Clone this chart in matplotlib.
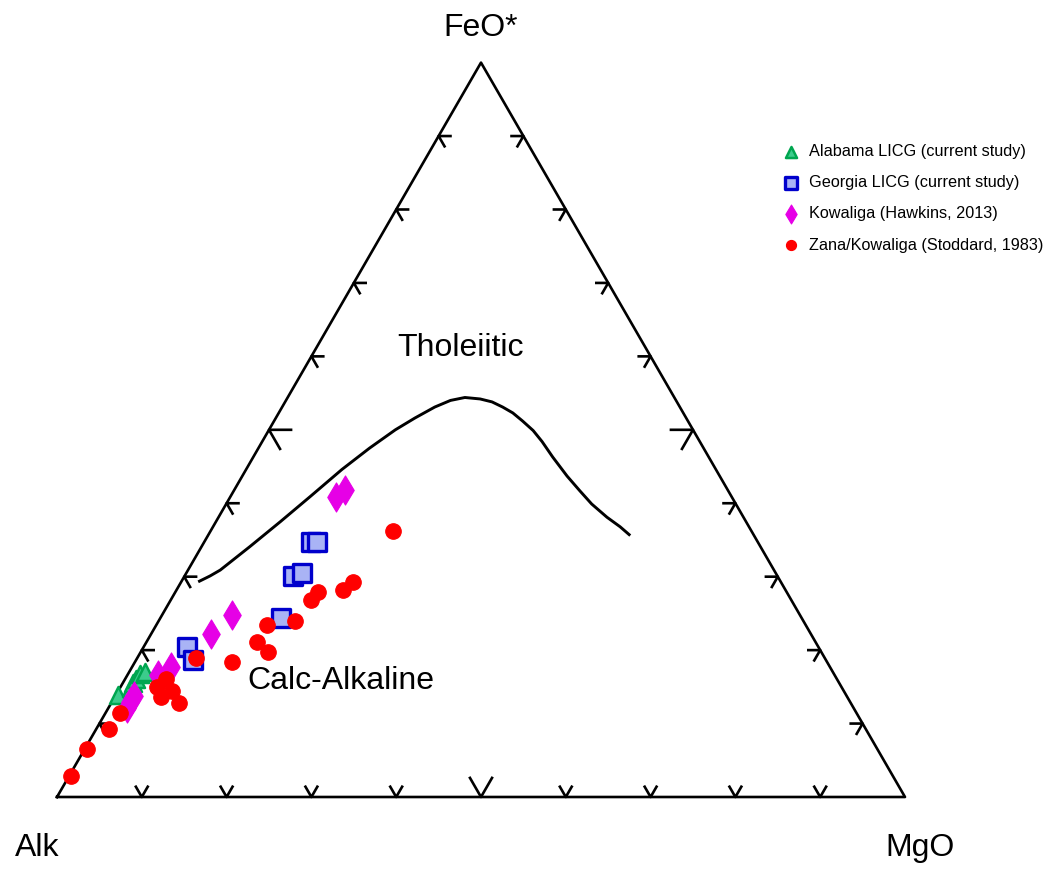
import numpy as np
import matplotlib
matplotlib.use('Agg')
import matplotlib.pyplot as plt

plt.rcParams['font.family'] = ['Liberation Sans', 'DejaVu Sans']

# composicoes em % : A = alcalis, F = FeO*, M = MgO
alabama_A = [85.9, 83.9, 83.3, 82.6, 81.8, 81.1]
alabama_F = [13.9, 14.8, 15.5, 16.1, 16.8, 17.0]
alabama_M = [0.2, 1.3, 1.2, 1.3, 1.4, 1.9]

georgia_A = [74.5, 74.6, 61.4, 57.1, 55.9, 52.7, 52.0]
georgia_F = [20.4, 18.7, 24.4, 30.1, 30.5, 34.7, 34.7]
georgia_M = [5.1, 6.7, 14.2, 12.8, 13.6, 12.6, 13.3]

hawkins_A = [85.7, 84.9, 84.0, 79.8, 77.7, 70.7, 67.0, 46.6, 45.1]
hawkins_F = [12.1, 12.9, 13.8, 16.6, 17.7, 22.2, 24.8, 40.9, 41.8]
hawkins_M = [2.2, 2.2, 2.2, 3.6, 4.6, 7.1, 8.2, 12.5, 13.1]

stoddard_A = [96.9, 93.2, 89.2, 86.9, 80.7, 79.1, 80.9, 79.2, 79.2, 74.1,
              70.2, 65.9, 65.3, 63.5, 59.9, 56.6, 55.3, 52.2, 50.5, 42.3]
stoddard_F = [2.9, 6.5, 9.3, 11.4, 15.0, 16.1, 13.6, 14.4, 12.8, 18.9,
              18.4, 21.1, 19.7, 23.4, 24.0, 26.8, 27.9, 28.2, 29.3, 36.2]
stoddard_M = [0.2, 0.3, 1.5, 1.7, 4.3, 4.8, 5.5, 6.4, 8.0, 7.0,
              11.4, 13.0, 15.0, 13.1, 16.1, 16.6, 16.8, 19.6, 20.2, 21.5]

# limite toleitico / calcio-alcalino (F, M em %; A = resto)
lim_F = [29.3, 30.1, 30.9, 34.1, 37.5, 40.9, 44.6, 47.5, 50.0, 51.6, 53.1,
         54.0, 54.4, 54.2, 53.8, 53.1, 52.3, 51.2, 49.9, 48.4, 46.3, 43.7,
         41.7, 39.9, 38.1, 36.8, 35.6]
lim_M = [2.0, 3.0, 3.8, 5.7, 7.6, 9.4, 11.3, 13.1, 14.9, 16.4, 18.0,
         19.4, 20.9, 22.8, 24.4, 26.0, 27.6, 29.3, 31.2, 33.0, 35.3, 38.3,
         40.8, 43.1, 45.8, 48.0, 49.8]
lim_A = [100 - f - m for f, m in zip(lim_F, lim_M)]


def tern(A, F, M):
    A, F, M = np.asarray(A, float), np.asarray(F, float), np.asarray(M, float)
    s = A + F + M
    f = F / s
    m = M / s
    return m + f / 2, f * np.sqrt(3) / 2


fig = plt.figure(figsize=(10.56, 8.69), dpi=100)
ax = fig.add_axes([0, 0, 1, 1])
ax.set_xlim(-57 / 848, 999 / 848)
ax.set_ylim(-72 / 848, 797 / 848)
ax.axis('off')

h = np.sqrt(3) / 2
ax.plot([0, 1, 0.5, 0], [0, 0, h, 0], c='black', lw=1.9, zorder=2)

# marcas nas arestas
c60, s60 = 0.5, h
for i in range(1, 10):
    t = i / 10
    L = 0.026 if i == 5 else 0.014
    # base
    ax.plot([t - L * c60, t, t + L * c60], [L * s60, 0, L * s60], c='black', lw=1.9)
    # lado esquerdo
    x, y = t / 2, t * h
    ax.plot([x + L, x, x + L * c60], [y, y, y - L * s60], c='black', lw=1.9)
    # lado direito
    x, y = 1 - t / 2, t * h
    ax.plot([x - L, x, x - L * c60], [y, y, y - L * s60], c='black', lw=1.9)

lx, ly = tern(lim_A, lim_F, lim_M)
ax.plot(lx, ly, c='black', lw=2.1, zorder=2, solid_joinstyle='round',
        solid_capstyle='butt')

x, y = tern(alabama_A, alabama_F, alabama_M)
ax.scatter(x, y, marker='^', s=150, facecolor='#3ccc8c', edgecolor='#00a650',
           linewidths=1.8, label='Alabama LICG (current study)', zorder=3)
x, y = tern(georgia_A, georgia_F, georgia_M)
ax.scatter(x, y, marker='s', s=165, facecolor='#a9b3f5', edgecolor='#0000cc',
           linewidths=2.4, label='Georgia LICG (current study)', zorder=3)
x, y = tern(hawkins_A, hawkins_F, hawkins_M)
ax.scatter(x, y, marker='d', s=220, facecolor='#e600e6', edgecolor='#e600e6',
           linewidths=0.8, label='Kowaliga (Hawkins, 2013)', zorder=3)
x, y = tern(stoddard_A, stoddard_F, stoddard_M)
ax.scatter(x, y, marker='o', s=125, facecolor='#ff0000', edgecolor='#ff0000',
           linewidths=0.8, label='Zana/Kowaliga (Stoddard, 1983)', zorder=3)

fs = 23
ax.text(0.5, 0.907, 'FeO*', fontsize=fs, ha='center', va='center')
ax.text(-0.0236, -0.060, 'Alk', fontsize=fs, ha='center', va='center')
ax.text(1.0177, -0.060, 'MgO', fontsize=fs, ha='center', va='center')
ax.text(0.4764, 0.5295, 'Tholeiitic', fontsize=fs, ha='center', va='center')
ax.text(0.3349, 0.1370, 'Calc-Alkaline', fontsize=fs, ha='center', va='center')

ax.legend(loc='upper left', bbox_to_anchor=(783 / 1056, 1 - 144 / 869),
          bbox_transform=fig.transFigure, frameon=False, fontsize=11.7,
          borderpad=0, borderaxespad=0, handlelength=1.0, handletextpad=0.6,
          labelspacing=1.0, markerscale=0.65, scatterpoints=1)

fig.savefig('out.png', dpi=100)
